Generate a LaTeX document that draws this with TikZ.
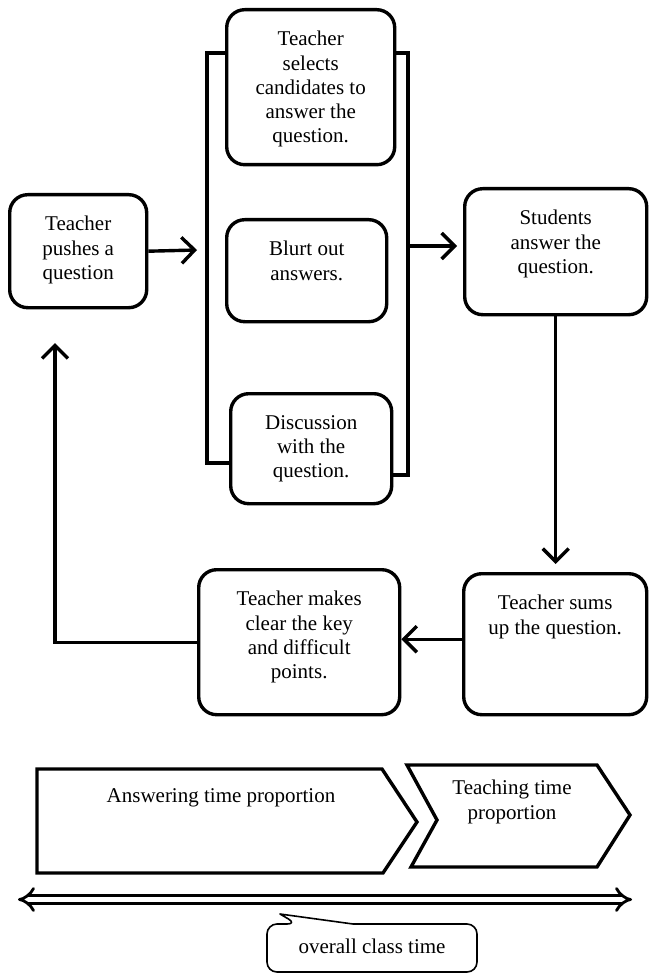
\documentclass[tikz,border=0pt]{standalone}
\usepackage{fontspec}
\setmainfont{Liberation Serif}
\usetikzlibrary{arrows.meta, positioning}
\tikzset{
  stepbox/.style={draw, fill=white, line width=3.4pt, rounded corners=18pt, anchor=north west, inner sep=0pt},
  boxtext/.style={align=center, inner sep=0pt, font=\fontsize{21}{24.3}\selectfont},
  flow/.style={line width=3.4pt, -{Straight Barb[length=13pt,width=26pt]}},
  chevron/.style={draw, line width=3.4pt, line join=miter},
}

\begin{document}
\begin{tikzpicture}[x=1pt, y=-1pt]
  \useasboundingbox (0,0) rectangle (650,973);
  % bracket round the three ways of answering
  \draw[line width=3.4pt] (232,53) -- (207,53) -- (207,463) -- (235,463);
  \draw[line width=3.4pt] (385,53) -- (408,53) -- (408,475) -- (385,475);
  \coordinate (bracketin) at (197,250);
  \coordinate (bracketout) at (408,246);
  \coordinate (loopup) at (55,343);

  \node[stepbox, minimum width=137pt, minimum height=113pt] (push) at (8,193) {};
  \node[stepbox, minimum width=168pt, minimum height=155pt] (select) at (225,8) {};
  \node[stepbox, minimum width=160pt, minimum height=102pt] (blurt) at (225,218) {};
  \node[stepbox, minimum width=161pt, minimum height=110pt] (discuss) at (229,392) {};
  \node[stepbox, minimum width=182pt, minimum height=126pt] (students) at (463,187) {};
  \node[stepbox, minimum width=183pt, minimum height=141pt] (sums) at (462,572) {};
  \node[stepbox, minimum width=201pt, minimum height=145pt] (makes) at (197,568) {};

  \node[boxtext, below=23pt of push.north] (pushtext) {Teacher\\pushes a\\question};
  \node[boxtext, below=23pt of select.north] (selecttext) {Teacher\\selects\\candidates to\\answer the\\question.};
  \node[boxtext, below=23pt of blurt.north] (blurttext) {Blurt out\\answers.};
  \node[boxtext, below=23pt of discuss.north] (discusstext) {Discussion\\with the\\question.};
  \node[boxtext, below=23pt of students.north] (studentstext) {Students\\answer the\\question.};
  \node[boxtext, below=23pt of sums.north] (sumstext) {Teacher sums\\up the question.};
  \node[boxtext, below=23pt of makes.north] (makestext) {Teacher makes\\clear the key\\and difficult\\points.};

  \draw[flow] (push.east) -- (bracketin);
  \draw[flow, shorten >=6pt] (bracketout) -- (bracketout -| students.west);
  \draw[flow, shorten >=8pt] (students.south) -- (students.south |- sums.north);
  \draw[flow] ([yshift=5pt]sums.west) -- ([yshift=5pt]sums.west -| makes.east);
  \draw[flow] (makes.west) -| (loopup);

  % time proportions
  \draw[chevron] (37,769) -- (382,769) -- (417,822) -- (383,873) -- (37,873) -- cycle;
  \draw[chevron] (407,765) -- (597,765) -- (630,815) -- (597,867) -- (411,867) -- (437,820) -- cycle;
  \node[boxtext, anchor=base] (answering) at (221,802) {Answering time proportion};
  \node[boxtext, anchor=north] (teaching) at (512,780) {Teaching time\\proportion};

  \coordinate (classleft) at (18,899.5);
  \coordinate (classright) at (632,899.5);
  \draw[line width=2.8pt, double, double distance=5.5pt, {Implies}-{Implies}] (classleft) -- (classright);

  \draw[line width=1.6pt, line join=round] (267,948) [rounded corners=10pt] -- (267,924) -- (297,924)
    [sharp corners] -- (280,914) -- (353,924) [rounded corners=10pt] -- (477,924) -- (477,972) -- (267,972) -- cycle;
  \node[boxtext, anchor=base] (classtime) at (372,953) {overall class time};
\end{tikzpicture}
\end{document}
